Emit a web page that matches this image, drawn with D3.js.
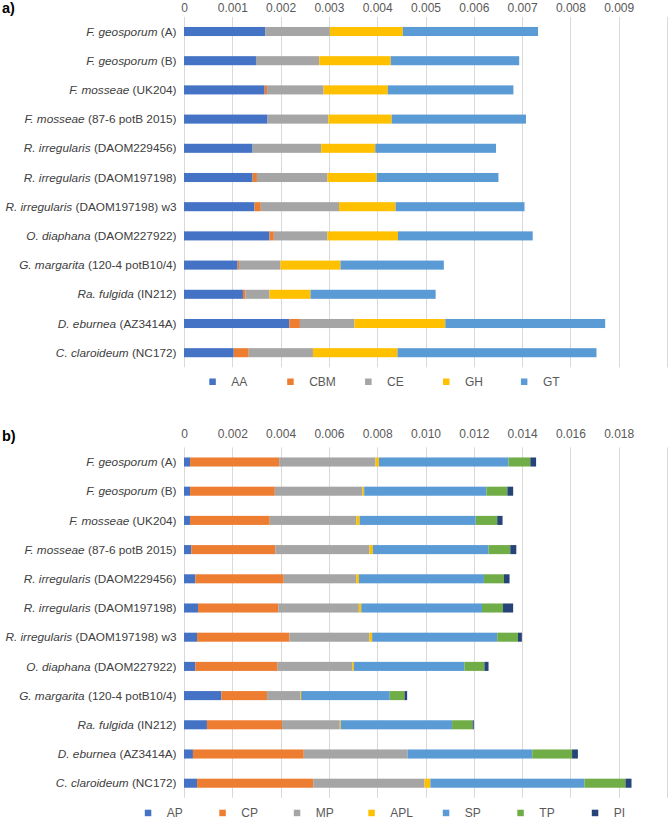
<!DOCTYPE html>
<html>
<head>
<meta charset="utf-8">
<script src="https://cdn.jsdelivr.net/npm/d3@7"></script>
<style>
  body { margin: 0; background: #fff; }
  svg { display: block; font-family: "Liberation Sans", Arial, sans-serif; }
</style>
</head>
<body>
<svg id="chart" width="669" height="819"></svg>
<script>
// ---------- DATA ----------
const species = ["F. geosporum","F. geosporum","F. mosseae","F. mosseae","R. irregularis","R. irregularis","R. irregularis","O. diaphana","G. margarita","Ra. fulgida","D. eburnea","C. claroideum"];
const strains = ["(A)","(B)","(UK204)","(87-6 potB 2015)","(DAOM229456)","(DAOM197198)","(DAOM197198) w3","(DAOM227922)","(120-4 potB10/4)","(IN212)","(AZ3414A)","(NC172)"];

// Panel a) series
const seriesA = ["AA","CBM","CE","GH","GT"];
const AA  = [0.00168,0.00149,0.00167,0.00173,0.00142,0.00142,0.00146,0.00177,0.00111,0.00122,0.00218,0.00103];
const CBM = [0.00000,0.00000,0.00005,0.00000,0.00000,0.00009,0.00013,0.00009,0.00003,0.00005,0.00022,0.00031];
const CE  = [0.00134,0.00131,0.00117,0.00126,0.00142,0.00146,0.00162,0.00111,0.00086,0.00050,0.00113,0.00133];
const GH  = [0.00151,0.00148,0.00133,0.00131,0.00112,0.00102,0.00117,0.00146,0.00124,0.00085,0.00188,0.00175];
const GT  = [0.00280,0.00266,0.00260,0.00278,0.00250,0.00252,0.00267,0.00279,0.00214,0.00259,0.00331,0.00412];
const ticksA = [0,0.001,0.002,0.003,0.004,0.005,0.006,0.007,0.008,0.009];
const gridA  = [0,0.001,0.002,0.003,0.004,0.005,0.006,0.007,0.008,0.009,0.010];

// Panel b) series
const seriesB = ["AP","CP","MP","APL","SP","TP","PI"];
const AP  = [0.00025,0.00025,0.00025,0.00030,0.00047,0.00058,0.00054,0.00047,0.00155,0.00095,0.00037,0.00054];
const CP  = [0.00369,0.00351,0.00330,0.00348,0.00366,0.00332,0.00383,0.00341,0.00189,0.00311,0.00459,0.00481];
const MP  = [0.00399,0.00363,0.00358,0.00390,0.00300,0.00334,0.00331,0.00308,0.00137,0.00239,0.00428,0.00461];
const APL = [0.00014,0.00007,0.00014,0.00014,0.00011,0.00010,0.00011,0.00007,0.00004,0.00004,0.00001,0.00024];
const SP  = [0.00537,0.00506,0.00481,0.00479,0.00518,0.00500,0.00518,0.00458,0.00367,0.00461,0.00517,0.00638];
const TP  = [0.00090,0.00087,0.00089,0.00090,0.00083,0.00087,0.00086,0.00083,0.00061,0.00085,0.00165,0.00170];
const PI  = [0.00024,0.00024,0.00022,0.00025,0.00023,0.00042,0.00016,0.00017,0.00011,0.00005,0.00024,0.00025];
const ticksB = [0,0.002,0.004,0.006,0.008,0.010,0.012,0.014,0.016,0.018];
const gridB  = [0,0.002,0.004,0.006,0.008,0.010,0.012,0.014,0.016,0.018,0.020];

const colorsA = ["#4472C4","#ED7D31","#A5A5A5","#FFC000","#5B9BD5"];
const colorsB = ["#4472C4","#ED7D31","#A5A5A5","#FFC000","#5B9BD5","#70AD47","#264478"];

// ---------- DRAW ----------
const svg = d3.select("#chart");
const X0 = 184, X1 = 667;

function fmt(d) { return d === 0 ? "0" : d3.format(".3f")(d); }

function panel(opts) {
  const { label, keys, values, colors, ticks, grid, top, bottom, tickY, legendY, legendX0, legendStep, panelLabelY } = opts;
  const rows = species.map((s, i) => {
    const r = { idx: i };
    keys.forEach((k, j) => r[k] = values[j][i]);
    return r;
  });
  const x = d3.scaleLinear().domain([0, grid[grid.length - 1]]).range([X0, X1]);
  const y = d3.scaleBand().domain(d3.range(species.length)).range([top, bottom])
    .paddingInner(0.69).paddingOuter(0.345);
  const g = svg.append("g");

  // panel label
  g.append("text").attr("x", 2).attr("y", panelLabelY).attr("dy", "0.35em")
    .attr("font-size", 14.5).attr("font-weight", "bold").attr("fill", "#000").text(label);

  // gridlines
  g.append("g").selectAll("line").data(grid).join("line")
    .attr("x1", d => Math.round(x(d)) + 0.5).attr("x2", d => Math.round(x(d)) + 0.5)
    .attr("y1", top).attr("y2", bottom)
    .attr("stroke", "#d9d9d9").attr("stroke-width", 1);

  // top axis labels
  const ax = d3.axisTop(x).tickValues(ticks).tickFormat(fmt).tickSize(0).tickPadding(0);
  const axG = g.append("g").attr("transform", `translate(0,${tickY})`).call(ax);
  axG.select(".domain").remove();
  axG.selectAll("text").attr("font-size", 12).attr("fill", "#595959")
    .attr("font-family", "'Liberation Sans', Arial, sans-serif").attr("dy", "0.35em");

  // stacked bars
  const stack = d3.stack().keys(keys)(rows);
  g.append("g").selectAll("g").data(stack).join("g")
    .attr("fill", (d, i) => colors[i])
    .selectAll("rect").data(d => d).join("rect")
    .attr("x", d => x(d[0]))
    .attr("width", d => Math.max(0, x(d[1]) - x(d[0])))
    .attr("y", d => y(d.data.idx))
    .attr("height", y.bandwidth());

  // category labels
  const lab = g.append("g").selectAll("text").data(rows).join("text")
    .attr("x", X0 - 7.5).attr("y", d => y(d.idx) + y.bandwidth() / 2).attr("dy", "0.35em")
    .attr("text-anchor", "end").attr("font-size", 11.8).attr("fill", "#404040");
  lab.append("tspan").attr("font-style", "italic").text(d => species[d.idx]);
  lab.append("tspan").text(d => " " + strains[d.idx]);

  // legend
  const lg = g.append("g").selectAll("g").data(keys).join("g")
    .attr("transform", (d, i) => `translate(${legendX0 + i * legendStep},${legendY})`);
  lg.append("rect").attr("x", -3).attr("y", -3).attr("width", 6.5).attr("height", 6.5)
    .attr("fill", (d, i) => colors[i]);
  lg.append("text").attr("x", 19).attr("dy", "0.35em").attr("font-size", 12)
    .attr("fill", "#595959").text(d => d);
}

panel({
  label: "a)", keys: seriesA, values: [AA, CBM, CE, GH, GT], colors: colorsA,
  ticks: ticksA, grid: gridA, top: 16.9, bottom: 367.3, tickY: 7.5,
  legendY: 381.5, legendX0: 212.3, legendStep: 77.9, panelLabelY: 8
});
panel({
  label: "b)", keys: seriesB, values: [AP, CP, MP, APL, SP, TP, PI], colors: colorsB,
  ticks: ticksB, grid: gridB, top: 447.4, bottom: 797.8, tickY: 434,
  legendY: 812.7, legendX0: 147.8, legendStep: 74.5, panelLabelY: 435.5
});
</script>
</body>
</html>
